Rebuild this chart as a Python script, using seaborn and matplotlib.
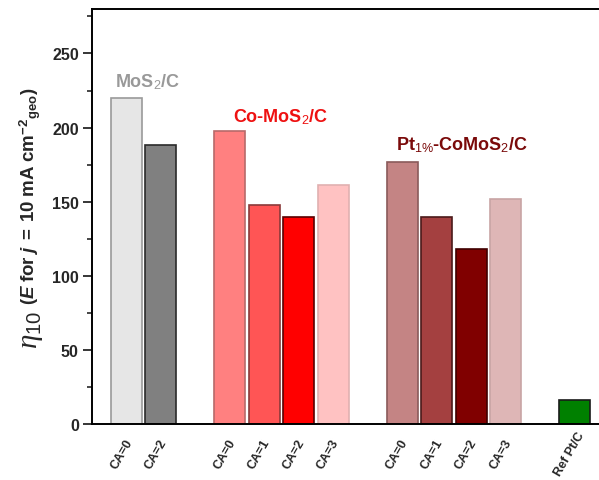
import matplotlib
matplotlib.use("Agg")
import matplotlib.pyplot as plt
import matplotlib.transforms as mtransforms
import seaborn as sns
import pandas as pd
from matplotlib.ticker import MultipleLocator

sns.set_style("white")
plt.rcParams['font.family'] = ['Liberation Sans', 'DejaVu Sans']
plt.rcParams['mathtext.fontset'] = 'custom'
plt.rcParams['mathtext.rm'] = 'Liberation Sans'
plt.rcParams['mathtext.bf'] = 'Liberation Sans:bold'
plt.rcParams['mathtext.it'] = 'Liberation Serif:italic'
plt.rcParams['mathtext.bfit'] = 'Liberation Sans:bold:italic'

# Data
bar_ids = ["MoS2 CA=0", "MoS2 CA=2", "Co CA=0", "Co CA=1", "Co CA=2", "Co CA=3",
           "Pt CA=0", "Pt CA=1", "Pt CA=2", "Pt CA=3", "Ref Pt/C"]
tick_labels = ["CA=0", "CA=2", "CA=0", "CA=1", "CA=2", "CA=3",
               "CA=0", "CA=1", "CA=2", "CA=3", "Ref Pt/C"]
slots = [0, 1, 3, 4, 5, 6, 8, 9, 10, 11, 13]
eta10 = [220, 188, 198, 148, 140, 161, 177, 140, 118, 152, 16]
face_colors = ["#e6e6e6", "#808080", "#ff8080", "#ff5555", "#ff0000", "#ffc2c2",
               "#c48484", "#a44040", "#800000", "#deb6b6", "#008000"]
edge_colors = ["#9a9a9a", "#2a2a2a", "#b86a6a", "#8a3a3a", "#5a0000", "#e0b0b0",
               "#8a5a5a", "#4a1a1a", "#400000", "#c8a4a4", "#1a1a1a"]

df = pd.DataFrame({"slot": slots, "eta": eta10, "id": bar_ids})

fig = plt.figure(figsize=(5.99, 4.81), dpi=100)
ax = fig.add_axes([92/599, 1 - 425/481, 517/599, 415/481])

sns.barplot(data=df, x="slot", y="eta", hue="id", hue_order=bar_ids,
            palette=dict(zip(bar_ids, face_colors)), native_scale=True,
            width=0.9, dodge=False, legend=False, ax=ax, linewidth=1.2,
            saturation=1)

for p in ax.patches:
    cx = p.get_x() + p.get_width() / 2
    for s, ec in zip(slots, edge_colors):
        if abs(cx - s) < 0.3:
            p.set_edgecolor(ec)

ax.set_xlim(-1, 14)
ax.set_ylim(0, 280)
ax.set_xticks(slots)
ax.set_xticklabels(tick_labels, rotation=60, ha="center", va="center",
                   rotation_mode="anchor", fontsize=9, fontweight="bold")
ax.tick_params(axis="x", length=0, pad=21.5)
shift = mtransforms.ScaledTranslation(-5/100, 0, fig.dpi_scale_trans)
for lab in ax.get_xticklabels():
    lab.set_transform(lab.get_transform() + shift)
ax.yaxis.set_major_locator(MultipleLocator(50))
ax.yaxis.set_minor_locator(MultipleLocator(25))
ax.tick_params(axis="y", which="major", direction="out", length=6.5, width=1.3, left=True, pad=3)
ax.tick_params(axis="y", which="minor", direction="out", length=3.5, width=1.2, left=True)
for lab in ax.get_yticklabels():
    lab.set_fontweight("bold")
    lab.set_fontsize(11.5)
for sp in ax.spines.values():
    sp.set_linewidth(1.4)
    sp.set_color("black")

ax.set_xlabel("")
ax.set_ylabel("")
fig.text(31/599, 1 - 330/481, r"$\mathit{\eta}_{\mathit{10}}$", rotation=90,
         fontsize=21, ha="center", va="center")
fig.text(30/599, 1 - 196/481,
         r"$\mathbf{(}\mathbfit{E}\mathbf{\ for\ }\mathbfit{j}\mathbf{\ =\ 10\ mA\ cm}^{\mathbf{-2}}{}_{\mathbf{geo}}\mathbf{)}$",
         rotation=90, fontsize=13.5, ha="center", va="center")

ax.text(0.6, 231, r"MoS$_2$/C", color="#999999", fontsize=13, fontweight="bold",
        ha="center", va="center")
ax.text(4.47, 207.5, r"Co-MoS$_2$/C", color="#ee1111", fontsize=13, fontweight="bold",
        ha="center", va="center")
ax.text(9.72, 188.5, r"Pt$_{1\%}$-CoMoS$_2$/C", color="#7a0a0a", fontsize=13,
        fontweight="bold", ha="center", va="center")

fig.savefig("out.png", dpi=100)
